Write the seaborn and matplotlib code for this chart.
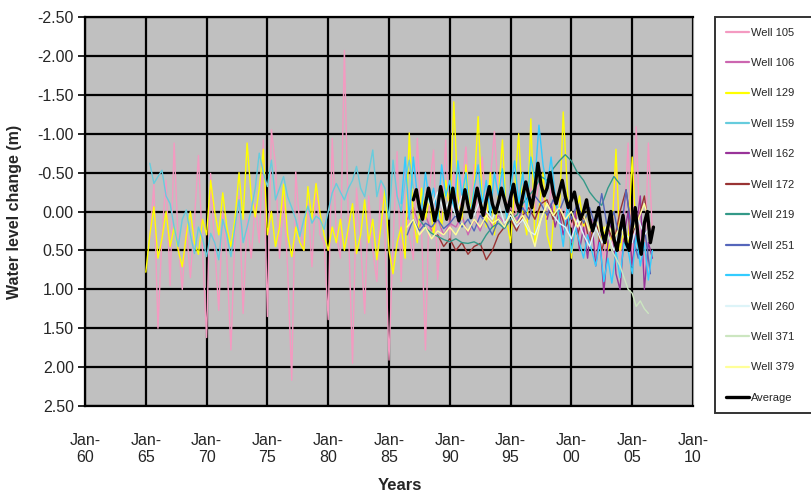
import numpy as np
import pandas as pd
import matplotlib
matplotlib.use("Agg")
import matplotlib.pyplot as plt
import matplotlib.dates as mdates
import seaborn as sns

# Water level change (m) per well; positive = drop below reference level
well_105_start, well_105_freq = "1965-05-01", "4MS"
well_105 = [0.35, -0.35, 1.50, 0.30, -0.40, 0.95, -0.88, 0.40, 1.00, 0.20, 0.85, 0.10,
            -0.72, 0.50, 1.62, -0.49, 0.45, 1.27, 0.00, 0.60, 1.78, 0.30, -0.20, 1.31,
            0.10, 0.60, -0.10, 0.40, -0.92, 1.35, -1.05, -0.60, 0.60, -0.20, 0.75, 2.17,
            -0.51, 0.20, 0.50, -0.10, 0.71, -0.36, 0.30, 0.40, 1.39, -0.94, 0.30, 0.60,
            -2.07, 0.20, 1.95, -0.30, 0.40, 1.31, -0.20, 0.50, 0.90, -0.40, 0.30, 1.91,
            0.40, -0.77, 0.90, -0.60, 0.30, 0.62, -0.94, 0.20, 1.78, -0.30, -0.79, 0.88,
            0.10, -0.92, 0.40, -0.50, 0.20, -0.30, -0.83, 0.10, -0.60, 0.20, -0.70, 0.00,
            -0.40, -1.03, -0.20, -0.50, 0.00, -0.30, -0.10, 0.20, -0.20, 0.10, -0.30, 0.00,
            -0.40, -0.20, 0.10, -0.30, 0.00, -0.20, 0.10, -0.10, 0.20, 0.00, 0.30, 0.10,
            0.40, 0.20, 0.50, 0.30, 0.60, 0.20, 0.50, -0.70, 0.60, 0.20, -0.88, 0.70,
            -1.09, 0.40, 0.80, -0.88, 0.30]

well_106_start, well_106_freq = "1986-07-01", "6MS"
well_106 = [0.10, -0.05, 0.20, 0.05, 0.25, 0.10, 0.30, 0.15, 0.20, 0.05,
            0.30, 0.10, 0.25, 0.00, 0.20, 0.05, 0.15, -0.05, 0.10, 0.00]

well_129_start, well_129_freq = "1965-01-01", "4MS"
well_129 = [0.78, 0.30, -0.06, 0.60, 0.35, 0.00, 0.45, 0.20, 0.50, 0.71, 0.30, 0.00,
            0.40, 0.55, 0.10, 0.30, -0.40, 0.00, 0.30, -0.24, 0.20, 0.45, 0.10, -0.50,
            0.10, -0.88, -0.20, 0.07, -0.30, -0.80, 0.30, 0.00, 0.45, 0.20, -0.35, 0.30,
            0.58, 0.20, 0.40, 0.50, -0.32, 0.10, -0.36, 0.02, 0.30, 0.50, 0.20, 0.40,
            0.10, 0.50, 0.20, -0.10, 0.54, 0.30, -0.15, 0.40, 0.10, 0.62, 0.20, -0.28,
            0.50, 0.80, 0.40, 0.20, 0.60, -1.01, 0.10, 0.40, -0.30, 0.10, -0.20, 0.30,
            -0.10, 0.20, -0.40, 0.00, -1.41, -0.20, 0.10, -0.60, 0.00, -0.30, -1.22, -0.10,
            0.20, -0.50, 0.30, -0.20, -0.92, 0.10, 0.40, -0.30, -1.00, 0.00, 0.30, -1.19,
            0.40, 0.00, -0.50, 0.30, 0.50, -0.20, 0.10, -1.28, -0.30, 0.60, 0.10, -0.20,
            0.20, 0.00, 0.30, 0.10, 0.40, 0.20, 0.50, 0.30, -0.80, 0.50, 0.20, 0.40,
            -0.70, 0.30]

well_159_start, well_159_freq = "1965-05-01", "4MS"
well_159 = [-0.62, -0.36, -0.45, -0.53, -0.20, -0.10, 0.20, 0.45, 0.10, -0.02, 0.30, 0.54,
            0.20, 0.35, 0.58, 0.28, 0.40, 0.62, 0.10, 0.30, 0.58, 0.20, -0.15, 0.40,
            0.20, -0.02, -0.30, -0.75, -0.50, -0.32, -0.66, -0.15, -0.30, -0.45, -0.19, -0.05,
            0.10, 0.32, 0.10, -0.07, 0.15, 0.06, 0.10, 0.23, 0.00, -0.24, -0.36, -0.25,
            -0.15, -0.30, -0.40, -0.58, -0.30, -0.19, -0.50, -0.79, -0.19, -0.40, -0.30, 0.10,
            -0.66, -0.20, 0.00, -0.40, -0.66, -0.30]

well_162_start, well_162_freq = "1998-01-01", "4MS"
well_162 = [0.10, -0.10, 0.20, 0.00, 0.30, 0.10, 0.40, 0.00, 0.50, 0.20, 0.60, 0.10,
            0.70, 0.30, 1.05, 0.40, 0.10, 0.80, 1.00, 0.30, 0.00, 0.70, 0.20, -0.20,
            1.00, 0.40, 0.60]

well_172_start, well_172_freq = "1989-01-01", "6MS"
well_172 = [0.30, 0.45, 0.35, 0.50, 0.40, 0.55, 0.45, 0.41, 0.62, 0.50, 0.30, 0.20,
            0.10, 0.25, 0.05, -0.05, 0.10, -0.10, -0.15, 0.10, -0.05, 0.20, 0.06, 0.30,
            0.05, 0.40, 0.10, 0.50, 0.20, 0.40, 0.00, -0.28, 0.30, 0.10, -0.20, 0.40]

well_219_start, well_219_freq = "1987-07-01", "6MS"
well_219 = [0.10, 0.21, 0.28, 0.32, 0.36, 0.39, 0.35, 0.40, 0.41, 0.39, 0.43, 0.30,
            0.20, 0.15, 0.22, 0.10, 0.05, -0.10, -0.20, -0.30, -0.45, -0.40, -0.55, -0.65,
            -0.73, -0.65, -0.50, -0.40, -0.25, -0.15, -0.08, -0.30, -0.45, -0.35]

well_251_start, well_251_freq = "1986-07-01", "6MS"
well_251 = [0.30, 0.10, 0.25, 0.15, 0.20, 0.10, 0.22, 0.15, 0.05, 0.20, 0.10, 0.25,
            0.05, 0.15, 0.30, 0.10, 0.20, 0.00, 0.15, -0.05, 0.10, -0.20, -0.10, 0.05,
            -0.15, 0.00, -0.20, 0.10, -0.10, 0.15, -0.05, 0.20, -0.23, 0.25, 0.00, 0.40,
            -0.28, 0.30, 0.60, 0.20, 0.80]

well_252_start, well_252_freq = "1986-01-01", "4MS"
well_252 = [-0.10, -0.70, 0.10, -0.70, -0.20, 0.00, -0.50, -0.10, -0.30, 0.10, -0.60, -0.20,
            -0.40, 0.00, -0.65, -0.20, -0.50, 0.10, -0.30, -0.60, -0.10, -0.40, 0.05, -0.50,
            -0.20, -0.55, 0.10, -0.30, -0.65, -0.10, -0.50, 0.00, -0.70, -0.40, -1.11, -0.60,
            -0.30, -0.70, -0.20, 0.10, 0.45, -0.10, 0.53, 0.20, 0.40, 0.60, 0.30, 0.50,
            0.70, 0.40, 0.90, 0.60, 0.92, 0.50, 0.85, 0.40, 0.50, 0.80, 0.30, 0.70,
            0.40, 0.88, 0.50]

well_260_start, well_260_freq = "1988-01-01", "6MS"
well_260 = [-0.20, -0.05, -0.25, 0.00, -0.15, 0.05, -0.20, -0.10, 0.05, -0.15, 0.00, 0.10,
            -0.10, 0.15, 0.05, 0.20, 0.10, 0.25, 0.30, 0.10, -0.10, 0.05, 0.15, 0.20,
            0.35, 0.10, 0.30, 0.45, 0.20, 0.40, 0.30, 0.50, 0.20, 0.30, 0.40, 0.10,
            0.30, 0.20]

well_371_start, well_371_freq = "2003-01-01", "4MS"
well_371 = [0.30, 0.50, 0.60, 0.70, 0.85, 1.00, 1.05, 1.22, 1.15, 1.25, 1.31]

well_379_start, well_379_freq = "1986-07-01", "6MS"
well_379 = [0.20, 0.10, 0.30, 0.20, 0.35, 0.25, 0.30, 0.20, 0.30, 0.15, 0.25, 0.10,
            0.20, 0.05, 0.15, 0.10, 0.20, 0.00, 0.15, 0.05, 0.20, 0.45, 0.10, -0.10,
            0.05, -0.05, 0.10, 0.00, 0.20, 0.05, 0.25, 0.10, 0.30, 0.15, 0.35, 0.20,
            0.40, 0.25, 0.10, -0.10, 0.20]

average_start, average_freq = "1987-01-01", "3MS"
average = [-0.15, -0.28, -0.05, 0.10, -0.10, -0.30, -0.10, 0.12, -0.05, -0.32, -0.12, 0.10,
           -0.08, -0.30, -0.05, 0.12, -0.05, -0.28, -0.08, 0.08, -0.10, -0.30, -0.12, 0.05,
           -0.15, -0.32, -0.10, 0.02, -0.12, -0.30, -0.15, 0.00, -0.18, -0.35, -0.12, 0.00,
           -0.20, -0.38, -0.20, -0.05, -0.30, -0.62, -0.35, -0.20, -0.30, -0.50, -0.25, -0.10,
           -0.25, -0.40, -0.20, -0.05, -0.15, -0.25, -0.05, 0.10, 0.00, -0.15, 0.10, 0.25,
           0.10, -0.05, 0.25, 0.40, 0.20, 0.00, 0.35, 0.50, 0.25, 0.05, 0.40, 0.50,
           0.20, -0.05, 0.35, 0.55, 0.15, 0.00, 0.40, 0.20]

series = [
    ("Well 105", well_105_start, well_105_freq, well_105, "#F49AC1", 1.0),
    ("Well 106", well_106_start, well_106_freq, well_106, "#CC66B0", 1.0),
    ("Well 129", well_129_start, well_129_freq, well_129, "#FFFF00", 1.0),
    ("Well 159", well_159_start, well_159_freq, well_159, "#66CCDD", 1.0),
    ("Well 162", well_162_start, well_162_freq, well_162, "#993399", 1.0),
    ("Well 172", well_172_start, well_172_freq, well_172, "#993333", 1.0),
    ("Well 219", well_219_start, well_219_freq, well_219, "#339988", 1.0),
    ("Well 251", well_251_start, well_251_freq, well_251, "#5566BB", 1.0),
    ("Well 252", well_252_start, well_252_freq, well_252, "#33CCFF", 1.0),
    ("Well 260", well_260_start, well_260_freq, well_260, "#DDF4F8", 1.0),
    ("Well 371", well_371_start, well_371_freq, well_371, "#CCE6C0", 1.0),
    ("Well 379", well_379_start, well_379_freq, well_379, "#FFFF99", 1.0),
    ("Average", average_start, average_freq, average, "#000000", 2.4),
]

y_ticks = [-2.5, -2.0, -1.5, -1.0, -0.5, 0.0, 0.5, 1.0, 1.5, 2.0, 2.5]
x_tick_years = [1960, 1965, 1970, 1975, 1980, 1985, 1990, 1995, 2000, 2005, 2010]

sns.set_style("white")
plt.rcParams["font.family"] = ["Liberation Sans", "DejaVu Sans"]

fig = plt.figure(figsize=(8.12, 4.97), dpi=100)
ax = fig.add_axes([85 / 812, 1 - 406 / 497, 608 / 812, 389 / 497])
ax.set_facecolor("#C0C0C0")

for name, start, freq, vals, color, lw in series:
    dates = pd.date_range(start=start, periods=len(vals), freq=freq)
    sns.lineplot(x=dates, y=vals, ax=ax, color=color, linewidth=lw,
                 label=name, estimator=None, legend=False)

ax.set_xlim(pd.Timestamp("1960-01-01"), pd.Timestamp("2010-01-01"))
ax.set_ylim(2.5, -2.5)
ax.set_yticks(y_ticks)
ax.set_yticklabels([f"{v:.2f}" for v in y_ticks])
ax.set_xticks([pd.Timestamp(f"{y}-01-01") for y in x_tick_years])
ax.xaxis.set_major_formatter(mdates.DateFormatter("%b-\n%y"))

ax.grid(True, color="black", linewidth=1.6)
ax.set_axisbelow(True)
for side in ["top", "bottom", "left"]:
    ax.spines[side].set_color("black")
    ax.spines[side].set_linewidth(1.6)
ax.spines["right"].set_color("#9A9A9A")
ax.spines["right"].set_linewidth(0.8)

ax.tick_params(axis="y", which="major", left=True, length=5, width=1.2,
               color="black", labelsize=11.5, pad=3)
ax.tick_params(axis="x", which="major", bottom=False, labelsize=11.5, pad=16)

ax.set_ylabel("Water level change (m)", fontsize=11.5, fontweight="bold")
ax.yaxis.set_label_coords(-0.104, 0.5)
ax.set_xlabel("Years", fontsize=12, fontweight="bold")
ax.xaxis.set_label_coords(0.518, -0.185)

handles, labels = ax.get_legend_handles_labels()
leg = fig.legend(handles, labels, loc="upper left",
                 bbox_to_anchor=(715 / 812, 0, 102 / 812, 1 - 17 / 497),
                 mode="expand",
                 fontsize=8, labelspacing=1.84, handlelength=2.1,
                 handletextpad=0.2, borderpad=0.95, borderaxespad=0,
                 frameon=True, fancybox=False)
frame = leg.get_frame()
frame.set_edgecolor("black")
frame.set_linewidth(1.4)
frame.set_facecolor("white")
for line in leg.get_lines():
    line.set_linewidth(line.get_linewidth() if line.get_linewidth() > 2 else 1.6)

fig.savefig("out.png", dpi=100)
